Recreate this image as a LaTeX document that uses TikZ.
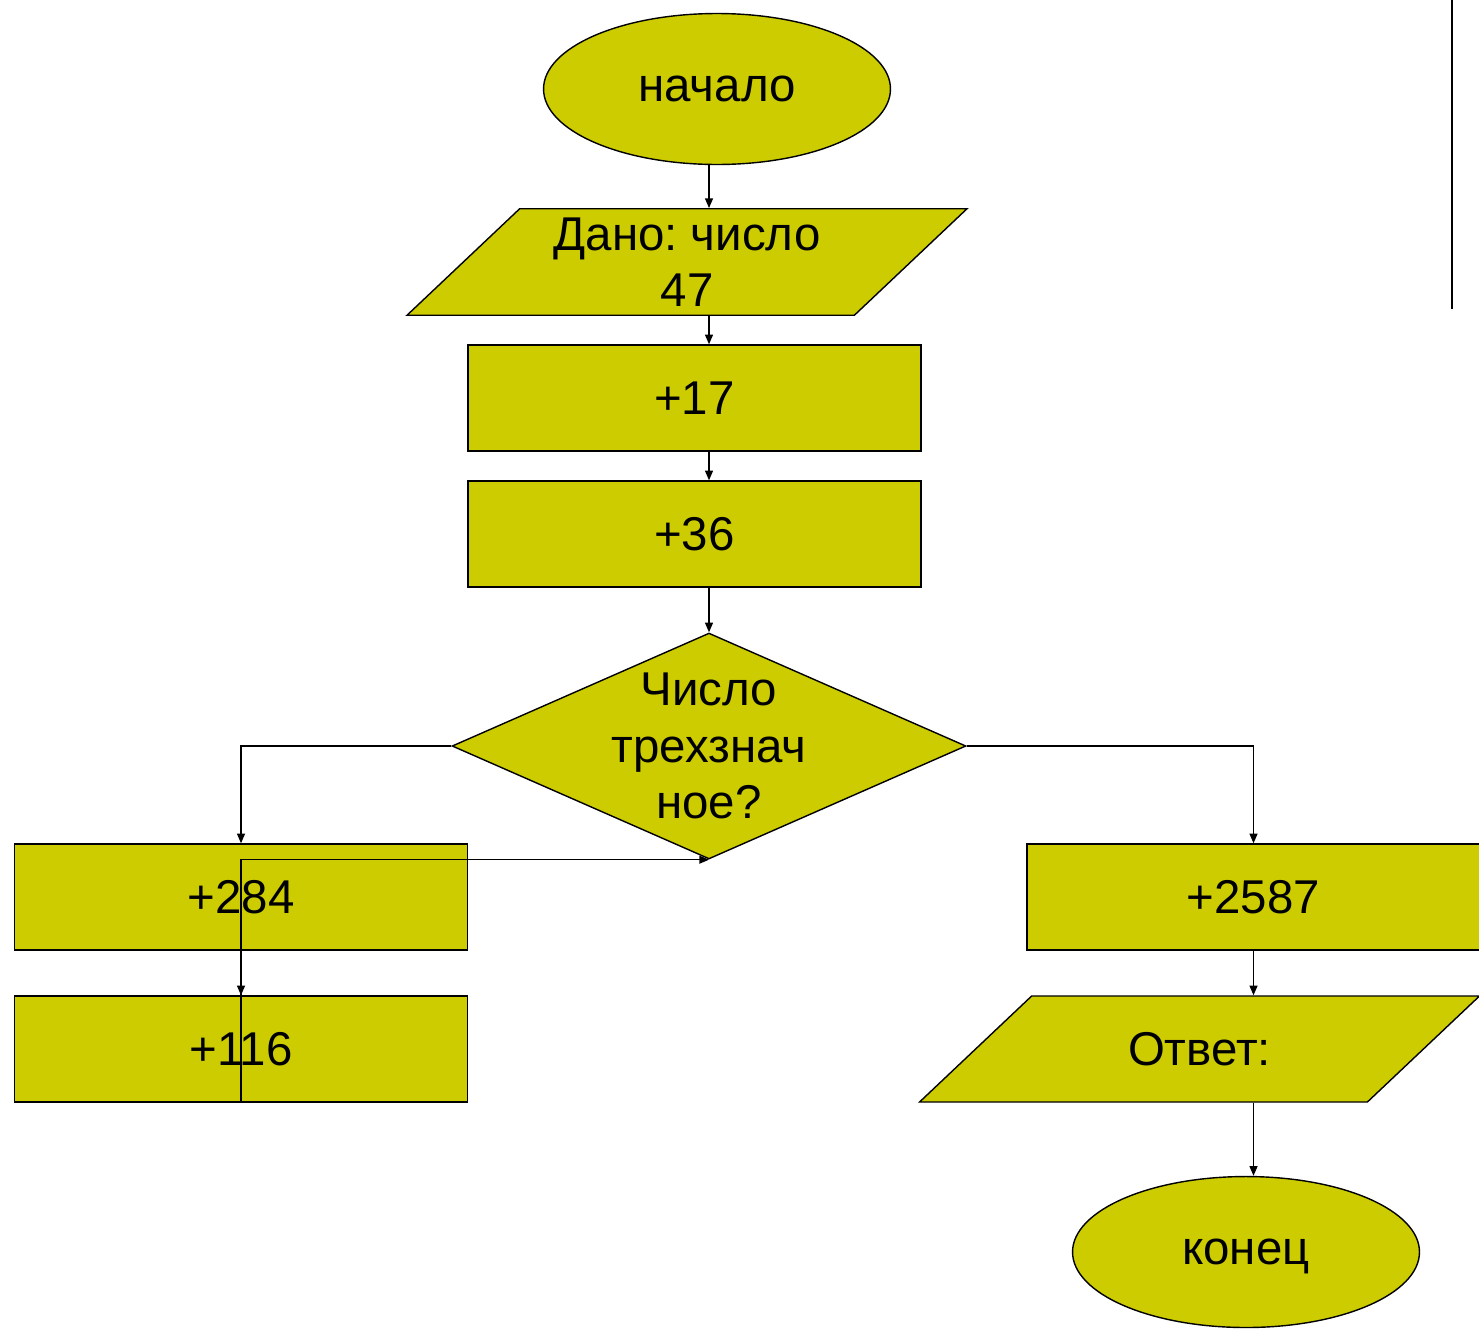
\documentclass[tikz,border=0pt]{standalone}
\usepackage{fontspec}
\setmainfont{Liberation Sans}
\usepackage{tikz}
\usetikzlibrary{arrows.meta,shapes.geometric}
\definecolor{olive}{RGB}{204,204,0}
\frenchspacing

\begin{document}
\begin{tikzpicture}[x=0.02cm, y=-0.02cm]
	\useasboundingbox (0,0) rectangle (1479,1333);
	\begin{scope}[every node/.style = {draw=black, fill=olive, line width=0.8pt,
			font=\fontsize{27}{32}\selectfont, align=center, inner sep=0pt},
		block/.style = {rectangle, minimum width=9.06cm, minimum height=2.12cm},
		terminal/.style = {ellipse, minimum width=6.94cm, minimum height=3.02cm},
		io/.style = {trapezium, trapezium left angle=43.4, trapezium right angle=136.6,
			trapezium stretches body, minimum width=11.2cm, minimum height=2.12cm},
		decision/.style = {diamond, minimum width=10.28cm, minimum height=4.52cm}]
		\node[terminal] (nachalo) at (717,89) {начало};
		\node[io, inner ysep=5pt] (dano) at (687,262) {Дано: число\\47};
		\node[block] (p17) at (694.5,398) {+17};
		\node[block] (p36) at (694.5,534) {+36};
		\node[decision, label={[draw=none, fill=none]center:{Число\\трехзнач\\ное?}}] (q) at (709,746) {};
		\node[block] (p284) at (241,897) {+284};
		\node[block] (p116) at (241,1049) {+116};
		\node[block] (p2587) at (1253.5,897) {+2587};
		\node[io, inner ysep=20.6pt] (otvet) at (1199.5,1049) {Ответ:};
		\node[terminal, text depth=0pt] (konec) at (1246,1252) {конец};
	\end{scope}
	\begin{scope}[>={Triangle[length=5.5pt, width=4.5pt]},
			every edge/.style={draw=black, line width=0.8pt}]
		\path [->] (q.north |- nachalo.south) edge (q.north |- dano.north);
		\path [->] (q.north |- dano.south) edge (q.north |- p17.north);
		\path [->] (q.north |- p17.south) edge (q.north |- p36.north);
		\path [->] (q.north |- p36.south) edge (q.north);
		\path [->] (q.west) edge[to path={-| (\tikztotarget)}] (p284.north);
		\path [->] (q.east) edge[to path={-| (\tikztotarget)}] (p2587.north);
		\path [->] (p284.south) edge (p116.north);
		\path [->] (p116.south) edge[to path={|- (\tikztotarget)}] (q.south);
		\path [->] (p2587.south) edge (p2587.south |- otvet.north);
		\path [->] (p2587.south |- otvet.south) edge (p2587.south |- konec.north);
	\end{scope}
	\draw[line width=1pt] (1452,0) -- (1452,309);
\end{tikzpicture}
\end{document}
